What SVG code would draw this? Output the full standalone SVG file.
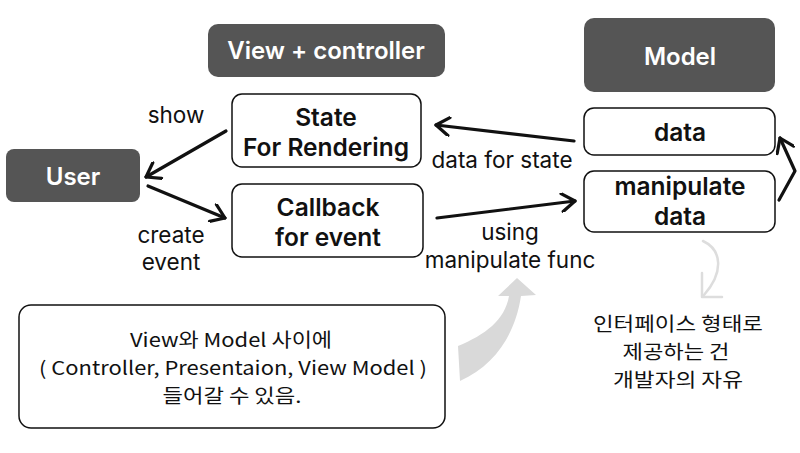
<svg xmlns="http://www.w3.org/2000/svg" width="800" height="453" viewBox="0 0 800 453">
<defs>
<style>
.dark{fill:#555555;}
.box{fill:#ffffff;stroke:#111111;stroke-width:1.5;}
.dt{fill:#ffffff;font-family:Inter,"Liberation Sans",sans-serif;font-weight:600;font-size:24px;text-anchor:middle;}
.bt{fill:#111111;font-family:Inter,"Liberation Sans",sans-serif;font-weight:600;font-size:24.5px;text-anchor:middle;}
.lb{fill:#111111;font-family:Inter,"Liberation Sans",sans-serif;font-size:22.5px;text-anchor:middle;}
.kr{fill:#111111;font-family:"Noto Sans CJK KR",sans-serif;font-size:19px;text-anchor:middle;}
.ar{fill:none;stroke:#111111;stroke-width:3.2;stroke-linecap:round;stroke-linejoin:round;}
</style>
<marker id="ah" viewBox="0 0 20 20" refX="15" refY="10" markerWidth="20" markerHeight="20" markerUnits="userSpaceOnUse" orient="auto">
<path d="M2,1 L15,10 L2,19" fill="none" stroke="#111111" stroke-width="3.2" stroke-linecap="round" stroke-linejoin="round"/>
</marker>
</defs>
<rect width="800" height="453" fill="#ffffff"/>

<g id="view-controller">
<rect class="dark" x="208" y="24" width="237" height="53" rx="10"/>
<text class="dt" x="326" y="59">View + controller</text>
</g>
<g id="model">
<rect class="dark" x="584" y="18" width="191" height="74" rx="10"/>
<text class="dt" x="680" y="65">Model</text>
</g>
<g id="user">
<rect class="dark" x="6" y="149" width="134" height="53" rx="8"/>
<text class="dt" x="73" y="185">User</text>
</g>
<g id="state">
<rect class="box" x="232" y="94" width="189" height="73" rx="10"/>
<text class="bt" x="326" y="126">State</text>
<text class="bt" x="326" y="156">For Rendering</text>
</g>
<g id="callback">
<rect class="box" x="232" y="184" width="191" height="73" rx="10"/>
<text class="bt" x="328" y="216">Callback</text>
<text class="bt" x="328" y="246">for event</text>
</g>
<g id="data">
<rect class="box" x="584" y="108" width="191" height="47" rx="10"/>
<text class="bt" x="680" y="141">data</text>
</g>
<g id="manipulate">
<rect class="box" x="584" y="171" width="191" height="61" rx="10"/>
<text class="bt" x="680" y="195">manipulate</text>
<text class="bt" x="680" y="225">data</text>
</g>
<g id="note">
<rect class="box" x="19" y="305" width="426" height="123" rx="12"/>
<text class="kr" x="231" y="347" textLength="202" lengthAdjust="spacingAndGlyphs">View와 Model 사이에</text>
<text class="kr" x="233" y="375" textLength="388" lengthAdjust="spacingAndGlyphs">( Controller, Presentaion, View Model )</text>
<text class="kr" x="232" y="403" textLength="139" lengthAdjust="spacingAndGlyphs">들어갈 수 있음.</text>
</g>
<g id="note2">
<text class="kr" x="678" y="331" textLength="170" lengthAdjust="spacingAndGlyphs">인터페이스 형태로</text>
<text class="kr" x="676" y="359" textLength="107" lengthAdjust="spacingAndGlyphs">제공하는 건</text>
<text class="kr" x="678" y="387" textLength="130" lengthAdjust="spacingAndGlyphs">개발자의 자유</text>
</g>

<g id="connectors">
<line class="ar" x1="226" y1="131" x2="146" y2="177" marker-end="url(#ah)"/>
<line class="ar" x1="148" y1="186" x2="225" y2="218" marker-end="url(#ah)"/>
<line class="ar" x1="574" y1="141" x2="436" y2="125" marker-end="url(#ah)"/>
<line class="ar" x1="437" y1="218" x2="575" y2="201" marker-end="url(#ah)"/>
<polyline class="ar" points="779,200 795,171 780,138" marker-end="url(#ah)"/>
<path d="M517,278 L536,295 L521,296 C515,335 495,365 460,381 L458,346 C485,335 505,320 509,296 L498,296 Z" fill="#d9d9d9"/>
<path d="M703,241 C722,250 724,272 704,295" fill="none" stroke="#dddddd" stroke-width="2.5" stroke-linecap="round"/>
<path d="M702,273 L702,297 L722,297" fill="none" stroke="#dddddd" stroke-width="2.5" stroke-linecap="round" stroke-linejoin="round"/>
<text class="lb" x="176" y="123">show</text>
<text class="lb" x="171" y="243">create</text>
<text class="lb" x="171" y="270">event</text>
<text class="lb" x="502" y="168">data for state</text>
<text class="lb" x="510" y="240">using</text>
<text class="lb" x="510" y="268">manipulate func</text>
</g>
</svg>
